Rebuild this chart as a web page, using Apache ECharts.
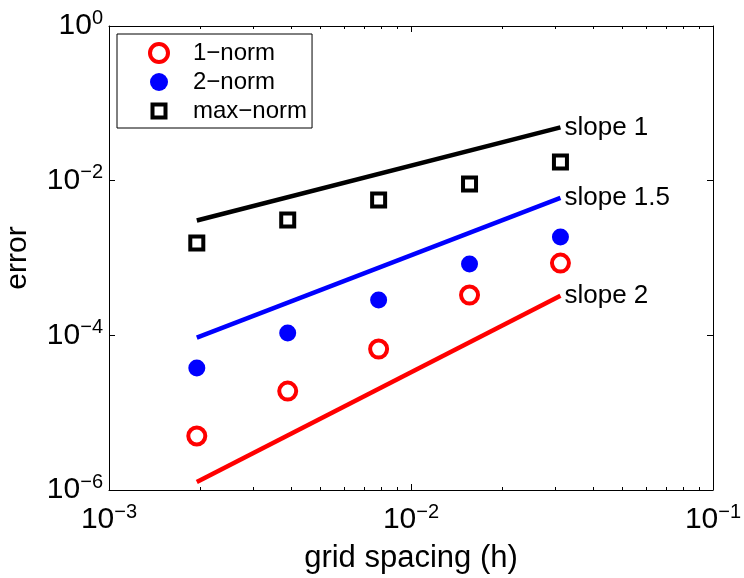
<!DOCTYPE html>
<html><head><meta charset="utf-8">
<script src="https://cdn.jsdelivr.net/npm/echarts@6/dist/echarts.min.js"></script>
<style>html,body{margin:0;padding:0;background:#fff}#c{width:744px;height:578px}</style>
</head><body><div id="c"></div>
<script>
// grid spacing values
const h = [0.001953125, 0.00390625, 0.0078125, 0.015625, 0.03125];
// error norms
const err1 = [4.99e-6, 1.9e-5, 6.65e-5, 3.32e-4, 8.6e-4];
const err2 = [3.78e-5, 1.07e-4, 2.86e-4, 8.36e-4, 1.87e-3];
const errMax = [1.56e-3, 3.10e-3, 5.62e-3, 9.05e-3, 1.74e-2];
// reference slope lines
const slopeX = [0.001953125, 0.03125];
const slope1 = [3.05e-3, 4.88e-2];
const slope15 = [9.35e-5, 5.98e-3];
const slope2 = [1.27e-6, 3.25e-4];
const slopeNames = ['slope 1', 'slope 1.5', 'slope 2'];
const seriesNames = ['1\u2212norm', '2\u2212norm', 'max\u2212norm'];
// ticks
const xMajor = [0.001, 0.01, 0.1];
const xMinor = [0.002, 0.003, 0.004, 0.005, 0.006, 0.007, 0.008, 0.009,
                0.02, 0.03, 0.04, 0.05, 0.06, 0.07, 0.08, 0.09];
const yMajor = [1e-6, 1e-4, 1e-2, 1];

const FONT = "'Liberation Sans', Arial, Helvetica, sans-serif";
const powFmt = v => {
  const e = Math.round(Math.log10(v));
  return '{b|10}{s|' + (e < 0 ? '\u2212' + (-e) : e) + '}';
};
const rich = {
  b: {fontSize: 30, lineHeight: 30, fontFamily: FONT, color: '#000'},
  s: {fontSize: 20, lineHeight: 20, fontFamily: FONT, color: '#000', padding: [0, 0, 16, 0]}
};
const black = {color: '#000', width: 1};

function xAx(pos, major, showLine, showLabel) {
  return {
    type: 'log', logBase: 10, min: 1e-3, max: 1e-1, position: pos, gridIndex: 0,
    axisLine: {show: showLine, onZero: false, lineStyle: black},
    axisTick: {show: true, inside: true, length: major ? 6 : 3,
               customValues: major ? xMajor : xMinor, lineStyle: black},
    axisLabel: {show: showLabel, customValues: xMajor, formatter: powFmt, rich: rich, margin: 15},
    splitLine: {show: false}, minorTick: {show: false}, minorSplitLine: {show: false}
  };
}
const xAxes = [xAx('bottom', true, true, true), xAx('bottom', false, false, false),
               xAx('top', true, true, false), xAx('top', false, false, false)];
xAxes[0].name = 'grid spacing (h)';
xAxes[0].nameLocation = 'middle';
xAxes[0].nameGap = 50;
xAxes[0].nameTextStyle = {fontSize: 31, fontFamily: FONT, color: '#000'};

function yAx(pos, showLabel) {
  return {
    type: 'log', logBase: 10, min: 1e-6, max: 1, position: pos, gridIndex: 0,
    axisLine: {show: true, onZero: false, lineStyle: black},
    axisTick: {show: true, inside: true, length: 6, customValues: yMajor, lineStyle: black},
    axisLabel: {show: showLabel, customValues: yMajor, formatter: powFmt, rich: rich, margin: 6},
    splitLine: {show: false}, minorTick: {show: false}
  };
}
const yAxes = [yAx('left', true), yAx('right', false)];
yAxes[0].name = 'error';
yAxes[0].nameLocation = 'middle';
yAxes[0].nameGap = 76;
yAxes[0].nameRotate = 90;
yAxes[0].nameTextStyle = {fontSize: 30, fontFamily: FONT, color: '#000'};

function slopeSeries(ys, name, color) {
  return {
    type: 'line', xAxisIndex: 0, yAxisIndex: 0, silent: true,
    data: [[slopeX[0], ys[0]], [slopeX[1], ys[1]]],
    symbol: 'none', lineStyle: {color: color, width: 4.5, opacity: 1},
    endLabel: {show: true, formatter: () => name, fontSize: 26, fontFamily: FONT, color: '#000', distance: 4},
    z: 2
  };
}
const pts = ys => h.map((x, i) => [x, ys[i]]);

const redStyle = {color: '#ffffff', borderColor: '#ff0000', borderWidth: 4, opacity: 1};
const blueStyle = {color: '#0000ff', borderWidth: 0, opacity: 1};
const blackStyle = {color: '#ffffff', borderColor: '#000000', borderWidth: 4, opacity: 1};

const chart = echarts.init(document.getElementById('c'), null, {renderer: 'canvas'});
chart.setOption({
  animation: false,
  backgroundColor: '#fff',
  grid: {left: 109, right: 31, top: 26, bottom: 88, containLabel: false, outerBoundsMode: 'none'},
  xAxis: xAxes,
  yAxis: yAxes,
  legend: {
    left: 117, top: 34, orient: 'vertical', selectedMode: false,
    data: [
      {name: seriesNames[0], itemStyle: redStyle},
      {name: seriesNames[1], itemStyle: blueStyle},
      {name: seriesNames[2], icon: 'path://M0,0M18,18M2.5,2.5L15.5,2.5L15.5,15.5L2.5,15.5Z', itemStyle: blackStyle}
    ],
    itemWidth: 18, itemHeight: 18, itemGap: 5,
    padding: [7, 5, 5, 31],
    borderColor: '#000', borderWidth: 1, borderRadius: 0, backgroundColor: '#fff',
    textStyle: {fontSize: 24, lineHeight: 24, fontFamily: FONT, color: '#000', padding: [0, 0, 0, 20]}
  },
  series: [
    slopeSeries(slope1, slopeNames[0], '#000000'),
    slopeSeries(slope15, slopeNames[1], '#0000ff'),
    slopeSeries(slope2, slopeNames[2], '#ff0000'),
    {name: seriesNames[0], type: 'scatter', data: pts(err1), symbol: 'circle', symbolSize: 17,
     itemStyle: redStyle, z: 3},
    {name: seriesNames[1], type: 'scatter', data: pts(err2), symbol: 'circle', symbolSize: 17,
     itemStyle: blueStyle, z: 3},
    {name: seriesNames[2], type: 'scatter', data: pts(errMax), symbol: 'rect', symbolSize: 13,
     itemStyle: blackStyle, z: 3}
  ]
});
</script></body></html>
